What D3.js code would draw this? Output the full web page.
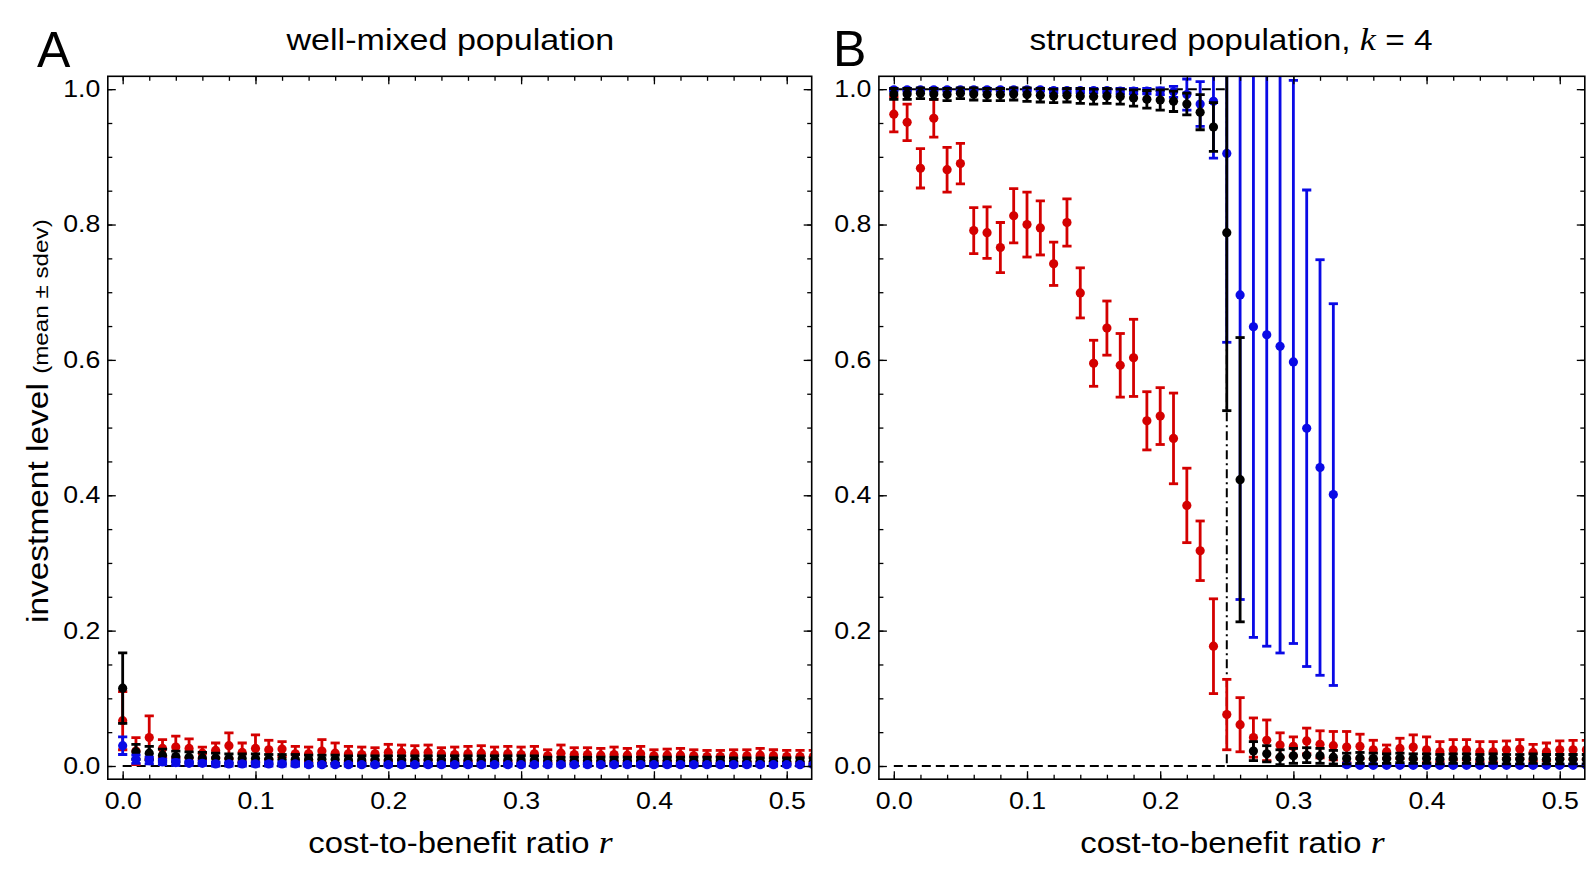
<!DOCTYPE html>
<html><head><meta charset="utf-8">
<script src="https://cdn.jsdelivr.net/npm/d3@7"></script>
<style>body{margin:0;background:#fff}</style>
</head><body>
<svg id="c" width="1595" height="878"></svg>
<script>
// ---------------- DATA ----------------
const r = [0,0.01,0.02,0.03,0.04,0.05,0.06,0.07,0.08,0.09,
           0.10,0.11,0.12,0.13,0.14,0.15,0.16,0.17,0.18,0.19,
           0.20,0.21,0.22,0.23,0.24,0.25,0.26,0.27,0.28,0.29,
           0.30,0.31,0.32,0.33,0.34,0.35,0.36,0.37,0.38,0.39,
           0.40,0.41,0.42,0.43,0.44,0.45,0.46,0.47,0.48,0.49,
           0.50,0.51,0.52];

// Panel A: well-mixed population
const A_red_mean = [0.067,0.022,0.042,0.026,0.028,0.026,0.019,0.023,0.030,0.020,
  0.026,0.024,0.025,0.018,0.018,0.022,0.019,0.018,0.017,0.018,
  0.020,0.020,0.019,0.020,0.018,0.017,0.018,0.019,0.017,0.018,
  0.017,0.018,0.015,0.019,0.017,0.017,0.016,0.017,0.016,0.018,
  0.015,0.016,0.016,0.015,0.014,0.014,0.015,0.015,0.016,0.015,
  0.014,0.014,0.014];
const A_red_sd = [0.043,0.020,0.032,0.013,0.016,0.014,0.009,0.011,0.019,0.014,
  0.020,0.014,0.011,0.011,0.010,0.017,0.015,0.011,0.011,0.009,
  0.012,0.011,0.011,0.011,0.009,0.011,0.011,0.011,0.011,0.011,
  0.011,0.011,0.009,0.012,0.010,0.010,0.010,0.011,0.010,0.011,
  0.009,0.009,0.010,0.009,0.009,0.009,0.009,0.009,0.010,0.009,
  0.009,0.009,0.009];
const A_black_mean = [0.115,0.021,0.019,0.016,0.014,0.013,0.012,0.012,0.011,0.011,
  0.011,0.010,0.010,0.010,0.010,0.010,0.010,0.009,0.009,0.009,
  0.009,0.009,0.009,0.009,0.009,0.009,0.009,0.009,0.009,0.009,
  0.009,0.009,0.008,0.008,0.008,0.008,0.008,0.008,0.008,0.008,
  0.008,0.008,0.008,0.008,0.008,0.008,0.007,0.007,0.007,0.007,
  0.007,0.007,0.007];
const A_black_sd = [0.052,0.011,0.010,0.009,0.008,0.008,0.008,0.007,0.007,0.007,
  0.007,0.007,0.007,0.007,0.006,0.006,0.006,0.006,0.006,0.006,
  0.006,0.006,0.006,0.006,0.006,0.006,0.006,0.006,0.006,0.006,
  0.006,0.006,0.005,0.005,0.005,0.005,0.005,0.005,0.005,0.005,
  0.005,0.005,0.005,0.005,0.005,0.005,0.005,0.005,0.005,0.005,
  0.005,0.005,0.005];
const A_blue_mean = [0.030,0.010,0.008,0.006,0.005,0.004,0.004,0.003,0.003,0.003,
  0.003,0.003,0.003,0.003,0.002,0.002,0.002,0.002,0.002,0.002,
  0.002,0.002,0.002,0.002,0.002,0.002,0.002,0.002,0.002,0.002,
  0.002,0.002,0.002,0.002,0.002,0.002,0.002,0.002,0.002,0.002,
  0.002,0.002,0.002,0.002,0.002,0.002,0.002,0.002,0.002,0.002,
  0.002,0.002,0.002];
const A_blue_sd = [0.013,0.006,0.005,0.004,0.004,0.003,0.003,0.003,0.003,0.003,
  0.003,0.003,0.003,0.003,0.002,0.002,0.002,0.002,0.002,0.002,
  0.002,0.002,0.002,0.002,0.002,0.002,0.002,0.002,0.002,0.002,
  0.002,0.002,0.002,0.002,0.002,0.002,0.002,0.002,0.002,0.002,
  0.002,0.002,0.002,0.002,0.002,0.002,0.002,0.002,0.002,0.002,
  0.002,0.002,0.002];

// Panel B: structured population, k = 4
const B_red_mean = [0.963,0.951,0.883,0.957,0.881,0.890,0.791,0.788,0.766,0.813,
  0.800,0.795,0.742,0.803,0.699,0.595,0.647,0.592,0.603,0.510,
  0.517,0.484,0.385,0.318,0.177,0.076,0.061,0.042,0.038,0.031,
  0.029,0.037,0.032,0.030,0.028,0.029,0.024,0.021,0.026,0.028,
  0.024,0.021,0.024,0.024,0.021,0.021,0.024,0.025,0.020,0.021,
  0.024,0.024,0.024];
const B_red_sd = [0.026,0.027,0.029,0.028,0.033,0.030,0.034,0.038,0.037,0.040,
  0.048,0.040,0.032,0.035,0.037,0.034,0.040,0.047,0.057,0.043,
  0.042,0.067,0.055,0.044,0.070,0.052,0.040,0.029,0.030,0.018,
  0.014,0.019,0.020,0.021,0.023,0.018,0.014,0.010,0.015,0.018,
  0.019,0.015,0.015,0.015,0.015,0.015,0.013,0.014,0.012,0.013,
  0.013,0.014,0.014];
const B_black_mean = [0.993,0.993,0.994,0.993,0.992,0.994,0.993,0.992,0.992,0.993,
  0.992,0.991,0.990,0.991,0.990,0.989,0.990,0.989,0.987,0.985,
  0.984,0.982,0.978,0.966,0.944,0.788,0.423,0.022,0.018,0.013,
  0.015,0.016,0.015,0.013,0.011,0.012,0.011,0.011,0.012,0.011,
  0.011,0.010,0.011,0.011,0.010,0.011,0.010,0.010,0.011,0.010,
  0.010,0.010,0.010];
const B_black_sd = [0.008,0.008,0.008,0.008,0.009,0.008,0.009,0.009,0.009,0.009,
  0.010,0.010,0.010,0.010,0.011,0.011,0.011,0.011,0.012,0.013,
  0.015,0.015,0.016,0.026,0.036,0.263,0.210,0.014,0.012,0.011,
  0.011,0.011,0.011,0.010,0.008,0.008,0.008,0.007,0.007,0.007,
  0.007,0.007,0.007,0.007,0.007,0.007,0.007,0.007,0.007,0.007,
  0.007,0.007,0.007];
const B_blue_mean = [0.999,0.999,0.999,0.999,0.999,0.999,0.999,0.999,0.999,0.999,
  0.999,0.999,0.998,0.998,0.998,0.998,0.998,0.997,0.997,0.997,
  0.997,0.996,0.992,0.978,0.982,0.905,0.696,0.649,0.637,0.620,
  0.597,0.499,0.441,0.401,0.002,0.001,0.001,0.001,0.001,0.001,
  0.001,0.001,0.001,0.001,0.001,0.001,0.001,0.001,0.001,0.001,
  0.001,0.001,0.001];
const B_blue_sd = [0.002,0.002,0.002,0.002,0.002,0.002,0.002,0.002,0.002,0.002,
  0.002,0.002,0.003,0.003,0.003,0.003,0.003,0.004,0.004,0.004,
  0.005,0.008,0.023,0.033,0.084,0.279,0.450,0.459,0.460,0.453,
  0.416,0.352,0.307,0.282,0.002,0.001,0.001,0.001,0.001,0.001,
  0.001,0.001,0.001,0.001,0.001,0.001,0.001,0.001,0.001,0.001,
  0.001,0.001,0.001];

// theory lines (r, level)
const B_theory = [[0,1],[0.25,1],[0.25,0],[0.52,0]];
const zeroLine = [[0,0],[0.52,0]];

// ticks
const xTicks = [0,0.1,0.2,0.3,0.4,0.5];
const xTickLabels = ["0.0","0.1","0.2","0.3","0.4","0.5"];
const xMinor = [0,0.02,0.04,0.06,0.08,0.10,0.12,0.14,0.16,0.18,0.20,0.22,0.24,0.26,0.28,0.30,0.32,0.34,0.36,0.38,0.40,0.42,0.44,0.46,0.48,0.50];
const yTicks = [0,0.2,0.4,0.6,0.8,1.0];
const yTickLabels = ["0.0","0.2","0.4","0.6","0.8","1.0"];
const yMinor = [0,0.05,0.10,0.15,0.20,0.25,0.30,0.35,0.40,0.45,0.50,0.55,0.60,0.65,0.70,0.75,0.80,0.85,0.90,0.95,1.0];

const colors = {red:"#d40000", blue:"#0a0ae6", black:"#000000"};

// ---------------- DRAW ----------------
const svg = d3.select("#c");
const SANS = "'Liberation Sans', Arial, Helvetica, sans-serif";
const SERIF = "'Liberation Serif', 'Times New Roman', serif";
const xDomain = [-0.0112, 0.5188], yDomain = [-0.0195, 1.019];
const TS = 1.16; // horizontal text stretch

const panels = [
  {key:"A", left:107.8, top:76.3, width:703.9, height:702.9,
   series:[["red",A_red_mean,A_red_sd],["black",A_black_mean,A_black_sd],["blue",A_blue_mean,A_blue_sd]],
   theory:null},
  {key:"B", left:878.9, top:76.3, width:705.9, height:702.9,
   series:[["red",B_red_mean,B_red_sd],["blue",B_blue_mean,B_blue_sd],["black",B_black_mean,B_black_sd]],
   theory:B_theory}
];

function fitText(g, width) {
  const t = g.select("text");
  const w = t.node().getBBox().width;
  t.attr("transform", `scale(${width / w},1) translate(${-w / 2},0)`);
}

panels.forEach((p, pi) => {
  const x = d3.scaleLinear().domain(xDomain).range([0, p.width]);
  const y = d3.scaleLinear().domain(yDomain).range([p.height, 0]);
  const g = svg.append("g").attr("transform", `translate(${p.left},${p.top})`);

  const clipId = "clip" + p.key;
  svg.append("defs").append("clipPath").attr("id", clipId)
    .append("rect").attr("width", p.width).attr("height", p.height);
  const data = g.append("g").attr("clip-path", `url(#${clipId})`);

  const line = d3.line().x(d => x(d[0])).y(d => y(d[1]));
  data.append("path").datum(zeroLine).attr("d", line)
    .attr("fill", "none").attr("stroke", "#000").attr("stroke-width", 2)
    .attr("stroke-dasharray", "9,5");
  if (p.theory) {
    const th = p.theory;
    data.append("path").datum([th[0], th[1]]).attr("d", line)
      .attr("fill", "none").attr("stroke", "#000").attr("stroke-width", 2)
      .attr("stroke-dasharray", "9,5");
    data.append("path").datum([th[1], th[2]]).attr("d", line)
      .attr("fill", "none").attr("stroke", "#000").attr("stroke-width", 2)
      .attr("stroke-dasharray", "9,4,2,4");
    data.append("path").datum([th[2], th[3]]).attr("d", line)
      .attr("fill", "none").attr("stroke", "#000").attr("stroke-width", 2)
      .attr("stroke-dasharray", "9,5").attr("stroke-dashoffset", 5);
  }

  p.series.forEach(([cname, mean, sd]) => {
    const col = colors[cname];
    const pts = r.map((v, i) => ({x: v, m: mean[i], s: sd[i]}));
    const sg = data.append("g");
    const cap = 4.6;
    sg.selectAll("line.bar").data(pts).join("line").attr("class", "bar")
      .attr("x1", d => x(d.x)).attr("x2", d => x(d.x))
      .attr("y1", d => y(d.m - d.s)).attr("y2", d => y(d.m + d.s))
      .attr("stroke", col).attr("stroke-width", 2.8);
    sg.selectAll("line.capt").data(pts).join("line").attr("class", "capt")
      .attr("x1", d => x(d.x) - cap).attr("x2", d => x(d.x) + cap)
      .attr("y1", d => y(d.m + d.s)).attr("y2", d => y(d.m + d.s))
      .attr("stroke", col).attr("stroke-width", 2.8);
    sg.selectAll("line.capb").data(pts).join("line").attr("class", "capb")
      .attr("x1", d => x(d.x) - cap).attr("x2", d => x(d.x) + cap)
      .attr("y1", d => y(d.m - d.s)).attr("y2", d => y(d.m - d.s))
      .attr("stroke", col).attr("stroke-width", 2.8);
    sg.selectAll("circle").data(pts).join("circle")
      .attr("cx", d => x(d.x)).attr("cy", d => y(d.m)).attr("r", 4.6)
      .attr("fill", col);
  });

  // axes (inward ticks on all four sides)
  const mk = (axis, tr) => {
    const a = g.append("g").attr("transform", tr).call(axis);
    a.select(".domain").remove();
    a.selectAll(".tick line").attr("stroke", "#000").attr("stroke-width", 1.3);
    return a;
  };
  const fmtX = (d) => xTickLabels[xTicks.indexOf(d)];
  const fmtY = (d) => yTickLabels[yTicks.indexOf(d)];

  const bx = mk(d3.axisBottom(x).tickValues(xTicks).tickSize(-8).tickSizeOuter(0).tickPadding(13.5).tickFormat(fmtX), `translate(0,${p.height})`);
  bx.selectAll("text").attr("font-family", SANS).attr("font-size", 23).attr("fill", "#000")
    .attr("transform", `scale(${TS},1)`);
  mk(d3.axisBottom(x).tickValues(xMinor).tickSize(-4.5).tickSizeOuter(0).tickFormat(""), `translate(0,${p.height})`);
  mk(d3.axisTop(x).tickValues(xTicks).tickSize(-8).tickSizeOuter(0).tickFormat(""), "translate(0,0)");
  mk(d3.axisTop(x).tickValues(xMinor).tickSize(-4.5).tickSizeOuter(0).tickFormat(""), "translate(0,0)");

  const ly = mk(d3.axisLeft(y).tickValues(yTicks).tickSize(-8).tickSizeOuter(0).tickPadding(7.5 / TS).tickFormat(fmtY), "translate(0,0)");
  ly.selectAll("text").attr("font-family", SANS).attr("font-size", 23).attr("fill", "#000")
    .attr("transform", `scale(${TS},1)`);
  mk(d3.axisLeft(y).tickValues(yMinor).tickSize(-4.5).tickSizeOuter(0).tickFormat(""), "translate(0,0)");
  mk(d3.axisRight(y).tickValues(yTicks).tickSize(-8).tickSizeOuter(0).tickFormat(""), `translate(${p.width},0)`);
  mk(d3.axisRight(y).tickValues(yMinor).tickSize(-4.5).tickSizeOuter(0).tickFormat(""), `translate(${p.width},0)`);

  g.append("rect").attr("width", p.width).attr("height", p.height)
    .attr("fill", "none").attr("stroke", "#000").attr("stroke-width", 1.6);

  // x-axis title
  const xt = svg.append("g").attr("transform", `translate(${p.left + p.width / 2 + 1},853)`);
  const xtt = xt.append("text").attr("font-family", SANS).attr("font-size", 29.5).attr("fill", "#000");
  xtt.append("tspan").text("cost-to-benefit ratio ");
  xtt.append("tspan").attr("font-family", SERIF).attr("font-style", "italic").attr("font-size", 32).text("r");
  fitText(xt, 305);
});

// panel letters
svg.append("text").attr("x", 37).attr("y", 67).attr("font-family", SANS).attr("font-size", 50).text("A");
svg.append("text").attr("x", 833).attr("y", 66).attr("font-family", SANS).attr("font-size", 50).text("B");

// titles
const tA = svg.append("g").attr("transform", "translate(451,50)");
tA.append("text").attr("font-family", SANS).attr("font-size", 29.5).text("well-mixed population");
fitText(tA, 329);

const tB = svg.append("g").attr("transform", "translate(1231,50)");
const tBt = tB.append("text").attr("font-family", SANS).attr("font-size", 29.5);
tBt.append("tspan").text("structured population, ");
tBt.append("tspan").attr("font-family", SERIF).attr("font-style", "italic").attr("font-size", 32).text("k");
tBt.append("tspan").text(" = 4");
fitText(tB, 403);

// y-axis title
const yt = svg.append("g").attr("transform", "translate(48,421) rotate(-90)");
const ytt = yt.append("text").attr("font-family", SANS).attr("font-size", 29).attr("fill", "#000");
ytt.append("tspan").text("investment level ");
ytt.append("tspan").attr("font-size", 21).text("(mean ± sdev)");
fitText(yt, 404);
</script>
</body></html>
